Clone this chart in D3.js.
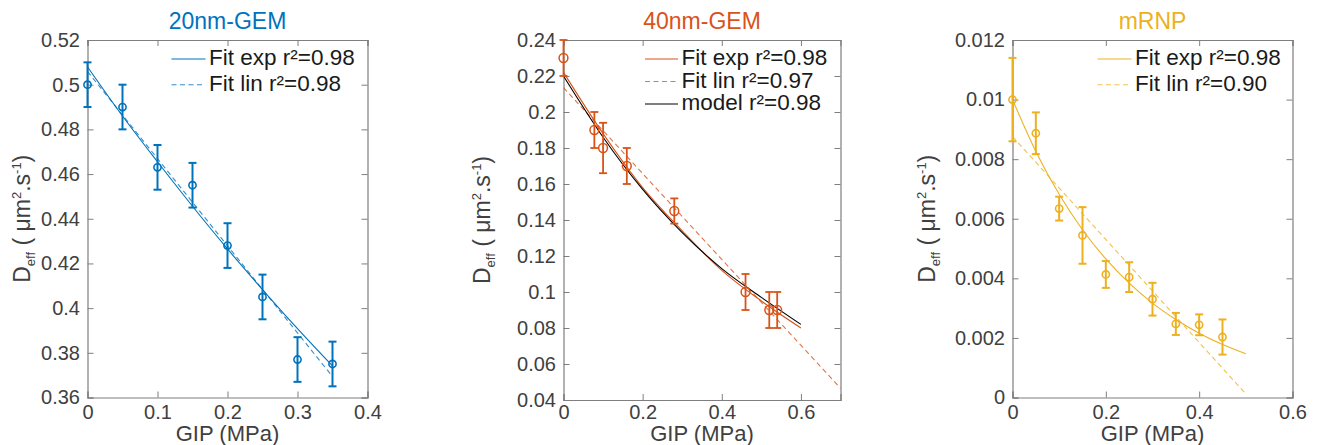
<!DOCTYPE html>
<html>
<head>
<meta charset="utf-8">
<script src="https://cdn.jsdelivr.net/npm/d3@7"></script>
<style>
  html, body { margin: 0; padding: 0; background: #fff; }
  svg { display: block; font-family: "Liberation Sans", Arial, Helvetica, sans-serif; }
</style>
</head>
<body>
<svg id="chart" width="1322" height="445"></svg>
<script>
// ---------------- DATA ----------------
// Panel 1: 20nm-GEM
const gem20X   = [0, 0.05, 0.1, 0.15, 0.2, 0.25, 0.3, 0.35];
const gem20Y   = [0.500, 0.490, 0.463, 0.455, 0.428, 0.405, 0.377, 0.375];
const gem20Err = [0.010, 0.010, 0.010, 0.010, 0.010, 0.010, 0.010, 0.010];
const gem20ExpX = [0, 0.05, 0.1, 0.15, 0.2, 0.25, 0.3, 0.35];
const gem20ExpY = [0.508, 0.486, 0.4655, 0.4456, 0.4265, 0.4083, 0.3908, 0.3741];
const gem20LinX = [0, 0.35];
const gem20LinY = [0.5059, 0.3694];
const gem20XTicks = [0, 0.1, 0.2, 0.3, 0.4];
const gem20YTicks = [0.36, 0.38, 0.4, 0.42, 0.44, 0.46, 0.48, 0.5, 0.52];
const gem20Legend = ["Fit exp r\u00B2=0.98", "Fit lin r\u00B2=0.98"];

// Panel 2: 40nm-GEM
const gem40X   = [0, 0.078, 0.1, 0.16, 0.28, 0.46, 0.52, 0.54];
const gem40Y   = [0.230, 0.190, 0.180, 0.170, 0.145, 0.100, 0.090, 0.090];
const gem40Err = [0.010, 0.010, 0.014, 0.010, 0.007, 0.010, 0.010, 0.010];
const gem40ExpX = [0, 0.1, 0.2, 0.3, 0.4, 0.5, 0.6];
const gem40ExpY = [0.222, 0.188, 0.158, 0.134, 0.112, 0.095, 0.080];
const gem40LinX = [0, 0.7];
const gem40LinY = [0.2135, 0.0465];
const gem40ModelX = [0, 0.1, 0.2, 0.3, 0.4, 0.5, 0.6];
const gem40ModelY = [0.220, 0.186, 0.157, 0.133, 0.113, 0.097, 0.082];
const gem40XTicks = [0, 0.2, 0.4, 0.6];
const gem40YTicks = [0.04, 0.06, 0.08, 0.1, 0.12, 0.14, 0.16, 0.18, 0.2, 0.22, 0.24];
const gem40Legend = ["Fit exp r\u00B2=0.98", "Fit lin r\u00B2=0.97", "model r\u00B2=0.98"];

// Panel 3: mRNP
const mrnpX   = [0, 0.05, 0.1, 0.15, 0.2, 0.25, 0.3, 0.35, 0.4, 0.45];
const mrnpY   = [0.0100, 0.00887, 0.00634, 0.00544, 0.00413, 0.00404, 0.00330, 0.00247, 0.00244, 0.00203];
const mrnpErr = [0.0014, 0.0007, 0.0004, 0.00095, 0.00045, 0.0005, 0.00055, 0.00037, 0.00035, 0.00059];
const mrnpExpX = [0, 0.05, 0.1, 0.15, 0.2, 0.25, 0.3, 0.35, 0.4, 0.45, 0.5];
const mrnpExpY = [0.0100, 0.00826, 0.00682, 0.00563, 0.00465, 0.00384, 0.00317, 0.00262, 0.00216, 0.00178, 0.00147];
const mrnpLinX = [0, 0.5];
const mrnpLinY = [0.00876, 0.00012];
const mrnpXTicks = [0, 0.2, 0.4, 0.6];
const mrnpYTicks = [0, 0.002, 0.004, 0.006, 0.008, 0.01, 0.012];
const mrnpLegend = ["Fit exp r\u00B2=0.98", "Fit lin r\u00B2=0.90"];

const titles = ["20nm-GEM", "40nm-GEM", "mRNP"];
const colors = ["#0072BD", "#D95319", "#EDB120"];

// ---------------- DRAWING ----------------
const svg = d3.select("#chart");
const axisColor = "#7f7f7f";
const textColor = "#404040";

function zip(xs, ys) { return xs.map((x, i) => [x, ys[i]]); }

function drawPanel(cfg) {
  const { box, xDomain, yDomain, xTicks, yTicks, color, title, pts, err,
          fits, legend, marker, ylabelX, xPad } = cfg;
  const g = svg.append("g");
  const x = d3.scaleLinear().domain(xDomain).range([box.l, box.r]);
  const y = d3.scaleLinear().domain(yDomain).range([box.b, box.t]);
  const fmt = d => String(+d.toPrecision(6));
  const tl = 6;

  const clipId = "clip" + Math.round(box.l);
  svg.append("clipPath").attr("id", clipId).append("rect")
    .attr("x", box.l).attr("y", box.t).attr("width", box.r - box.l).attr("height", box.b - box.t);

  const bottom = g.append("g").attr("transform", `translate(0,${box.b})`)
    .call(d3.axisBottom(x).tickValues(xTicks).tickSize(-tl).tickPadding(xPad).tickFormat(fmt));
  const left = g.append("g").attr("transform", `translate(${box.l},0)`)
    .call(d3.axisLeft(y).tickValues(yTicks).tickSize(-tl).tickPadding(7.5).tickFormat(fmt));
  const top = g.append("g").attr("transform", `translate(0,${box.t})`)
    .call(d3.axisTop(x).tickValues(xTicks).tickSize(-tl).tickFormat(""));
  const right = g.append("g").attr("transform", `translate(${box.r},0)`)
    .call(d3.axisRight(y).tickValues(yTicks).tickSize(-tl).tickFormat(""));
  [bottom, left, top, right].forEach(a => {
    a.select(".domain").attr("stroke", axisColor).attr("stroke-width", 1.2);
    a.selectAll(".tick line").attr("stroke", axisColor).attr("stroke-width", 1);
    a.selectAll(".tick text").attr("fill", textColor).style("font-size", "20px")
      .attr("font-family", "'Liberation Sans', Arial, sans-serif");
  });
  bottom.selectAll(".tick text").attr("dy", "0.71em");

  const line = d3.line().x(d => x(d[0])).y(d => y(d[1])).curve(d3.curveMonotoneX);
  const fg = g.append("g").attr("clip-path", `url(#${clipId})`);
  fits.forEach(f => {
    fg.append("path").datum(zip(f.xs, f.ys))
      .attr("d", line).attr("fill", "none")
      .attr("stroke", f.color).attr("stroke-width", 1.1)
      .attr("stroke-opacity", f.dash ? 0.8 : 1)
      .attr("stroke-dasharray", f.dash ? "5,3.5" : null);
  });

  const dg = g.append("g");
  pts.forEach((p, i) => {
    const cx = x(p[0]), y1 = y(p[1] - err[i]), y2 = y(p[1] + err[i]);
    dg.append("line").attr("x1", cx).attr("x2", cx).attr("y1", y1).attr("y2", y2)
      .attr("stroke", color).attr("stroke-width", marker.ew);
    [y1, y2].forEach(yy => dg.append("line")
      .attr("x1", cx - marker.cap).attr("x2", cx + marker.cap).attr("y1", yy).attr("y2", yy)
      .attr("stroke", color).attr("stroke-width", marker.ew));
    dg.append("circle").attr("cx", cx).attr("cy", y(p[1])).attr("r", marker.r)
      .attr("fill", "none").attr("stroke", color).attr("stroke-width", marker.sw);
  });

  g.append("text").attr("x", (box.l + box.r) / 2).attr("y", 29)
    .attr("text-anchor", "middle").attr("fill", color).style("font-size", "23px").text(title);

  g.append("text").attr("x", (box.l + box.r) / 2).attr("y", 441)
    .attr("text-anchor", "middle").attr("fill", textColor).style("font-size", "22px").text("GIP (MPa)");

  const yl = g.append("text")
    .attr("transform", `translate(${ylabelX},${(box.t + box.b) / 2}) rotate(-90)`)
    .attr("text-anchor", "middle").attr("fill", textColor).style("font-size", "23px");
  yl.append("tspan").text("D");
  yl.append("tspan").attr("dy", 5).style("font-size", "13px").text("eff");
  yl.append("tspan").attr("dy", -5).text(" ( \u03BCm");
  yl.append("tspan").attr("dy", -9).style("font-size", "13px").text("2");
  yl.append("tspan").attr("dy", 9).text(".s");
  yl.append("tspan").attr("dy", -9).style("font-size", "13px").text("-1");
  yl.append("tspan").attr("dy", 9).text(")");

  const lg = g.append("g");
  legend.items.forEach((it, i) => {
    const by = legend.y0 + i * legend.dy;
    lg.append("line").attr("x1", legend.x0).attr("x2", legend.x1)
      .attr("y1", by - 4).attr("y2", by - 4)
      .attr("stroke", it.color).attr("stroke-width", 1.1)
      .attr("stroke-opacity", it.dash ? 0.8 : 1)
      .attr("stroke-dasharray", it.dash ? "5,3.5" : null);
    lg.append("text").attr("x", legend.x1 + 3.5).attr("y", by + 2)
      .attr("fill", "#1a1a1a").style("font-size", "22.5px").text(it.label);
  });
}

drawPanel({
  box: { l: 87.5, r: 367.5, t: 40, b: 397.5 },
  xDomain: [0, 0.4], yDomain: [0.36, 0.52],
  xTicks: gem20XTicks, yTicks: gem20YTicks,
  color: colors[0], title: titles[0],
  pts: zip(gem20X, gem20Y), err: gem20Err,
  fits: [
    { xs: gem20ExpX, ys: gem20ExpY, color: colors[0], dash: false },
    { xs: gem20LinX, ys: gem20LinY, color: colors[0], dash: true }
  ],
  legend: { x0: 171.5, x1: 205.5, y0: 63, dy: 25.7,
    items: [
      { label: gem20Legend[0], color: colors[0], dash: false },
      { label: gem20Legend[1], color: colors[0], dash: true }
    ] },
  marker: { r: 3.6, sw: 1.6, ew: 2, cap: 4 },
  ylabelX: 30, xPad: 7
});

drawPanel({
  box: { l: 563.5, r: 840.5, t: 40, b: 400 },
  xDomain: [0, 0.7], yDomain: [0.04, 0.24],
  xTicks: gem40XTicks, yTicks: gem40YTicks,
  color: colors[1], title: titles[1],
  pts: zip(gem40X, gem40Y), err: gem40Err,
  fits: [
    { xs: gem40ExpX, ys: gem40ExpY, color: colors[1], dash: false },
    { xs: gem40LinX, ys: gem40LinY, color: colors[1], dash: true },
    { xs: gem40ModelX, ys: gem40ModelY, color: "#000000", dash: false }
  ],
  legend: { x0: 645, x1: 678, y0: 63, dy: 22.5,
    items: [
      { label: gem40Legend[0], color: colors[1], dash: false },
      { label: gem40Legend[1], color: colors[1], dash: true },
      { label: gem40Legend[2], color: "#000000", dash: false }
    ] },
  marker: { r: 4.4, sw: 1.5, ew: 1.8, cap: 4 },
  ylabelX: 490, xPad: 5
});

drawPanel({
  box: { l: 1012.5, r: 1292.5, t: 40, b: 397.5 },
  xDomain: [0, 0.6], yDomain: [0, 0.012],
  xTicks: mrnpXTicks, yTicks: mrnpYTicks,
  color: colors[2], title: titles[2],
  pts: zip(mrnpX, mrnpY), err: mrnpErr,
  fits: [
    { xs: mrnpExpX, ys: mrnpExpY, color: colors[2], dash: false },
    { xs: mrnpLinX, ys: mrnpLinY, color: colors[2], dash: true }
  ],
  legend: { x0: 1097.5, x1: 1131.5, y0: 63, dy: 25.7,
    items: [
      { label: mrnpLegend[0], color: colors[2], dash: false },
      { label: mrnpLegend[1], color: colors[2], dash: true }
    ] },
  marker: { r: 3.6, sw: 1.6, ew: 2, cap: 4 },
  ylabelX: 935, xPad: 7
});
</script>
</body>
</html>
